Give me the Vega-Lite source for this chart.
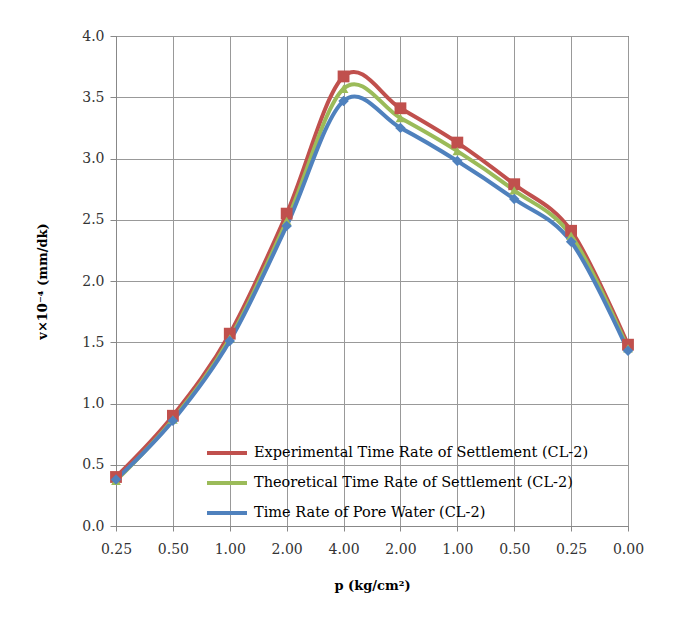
{
  "$schema": "https://vega.github.io/schema/vega-lite/v6.json",
  "width": 512,
  "height": 490,
  "autosize": "none",
  "padding": {"left": 116, "top": 36, "right": 55, "bottom": 106},
  "background": "white",
  "config": {
    "font": "DejaVu Serif",
    "view": {"stroke": "#333333", "strokeWidth": 1}
  },
  "data": {
    "values": [
      {"i": 0, "s": "Experimental Time Rate of Settlement (CL-2)", "v": 0.40},
      {"i": 1, "s": "Experimental Time Rate of Settlement (CL-2)", "v": 0.90},
      {"i": 2, "s": "Experimental Time Rate of Settlement (CL-2)", "v": 1.57},
      {"i": 3, "s": "Experimental Time Rate of Settlement (CL-2)", "v": 2.55},
      {"i": 4, "s": "Experimental Time Rate of Settlement (CL-2)", "v": 3.67},
      {"i": 5, "s": "Experimental Time Rate of Settlement (CL-2)", "v": 3.41},
      {"i": 6, "s": "Experimental Time Rate of Settlement (CL-2)", "v": 3.13},
      {"i": 7, "s": "Experimental Time Rate of Settlement (CL-2)", "v": 2.79},
      {"i": 8, "s": "Experimental Time Rate of Settlement (CL-2)", "v": 2.41},
      {"i": 9, "s": "Experimental Time Rate of Settlement (CL-2)", "v": 1.48},
      {"i": 0, "s": "Theoretical Time Rate of Settlement  (CL-2)", "v": 0.37},
      {"i": 1, "s": "Theoretical Time Rate of Settlement  (CL-2)", "v": 0.87},
      {"i": 2, "s": "Theoretical Time Rate of Settlement  (CL-2)", "v": 1.53},
      {"i": 3, "s": "Theoretical Time Rate of Settlement  (CL-2)", "v": 2.49},
      {"i": 4, "s": "Theoretical Time Rate of Settlement  (CL-2)", "v": 3.57},
      {"i": 5, "s": "Theoretical Time Rate of Settlement  (CL-2)", "v": 3.33},
      {"i": 6, "s": "Theoretical Time Rate of Settlement  (CL-2)", "v": 3.06},
      {"i": 7, "s": "Theoretical Time Rate of Settlement  (CL-2)", "v": 2.74},
      {"i": 8, "s": "Theoretical Time Rate of Settlement  (CL-2)", "v": 2.37},
      {"i": 9, "s": "Theoretical Time Rate of Settlement  (CL-2)", "v": 1.45},
      {"i": 0, "s": "Time Rate of Pore Water (CL-2)", "v": 0.38},
      {"i": 1, "s": "Time Rate of Pore Water (CL-2)", "v": 0.86},
      {"i": 2, "s": "Time Rate of Pore Water (CL-2)", "v": 1.51},
      {"i": 3, "s": "Time Rate of Pore Water (CL-2)", "v": 2.45},
      {"i": 4, "s": "Time Rate of Pore Water (CL-2)", "v": 3.47},
      {"i": 5, "s": "Time Rate of Pore Water (CL-2)", "v": 3.25},
      {"i": 6, "s": "Time Rate of Pore Water (CL-2)", "v": 2.98},
      {"i": 7, "s": "Time Rate of Pore Water (CL-2)", "v": 2.67},
      {"i": 8, "s": "Time Rate of Pore Water (CL-2)", "v": 2.32},
      {"i": 9, "s": "Time Rate of Pore Water (CL-2)", "v": 1.43}
    ]
  },
  "encoding": {
    "x": {
      "field": "i",
      "type": "quantitative",
      "scale": {"domain": [0, 9], "nice": false, "zero": false},
      "axis": {
        "values": [0, 1, 2, 3, 4, 5, 6, 7, 8, 9],
        "labelExpr": "['0.25','0.50','1.00','2.00','4.00','2.00','1.00','0.50','0.25','0.00'][datum.value]",
        "title": "p (kg/cm²)",
        "titleFontSize": 13,
        "titleFontWeight": "bold",
        "titleColor": "#000000",
        "titlePadding": 23,
        "labelFontSize": 14,
        "labelColor": "#333333",
        "labelPadding": 11,
        "grid": true,
        "gridColor": "#999999",
        "gridWidth": 1,
        "domainColor": "#888888",
        "tickColor": "#888888",
        "tickSize": 5,
        "labelFlush": false
      }
    },
    "y": {
      "field": "v",
      "type": "quantitative",
      "scale": {"domain": [0, 4], "nice": false},
      "axis": {
        "values": [0, 0.5, 1, 1.5, 2, 2.5, 3, 3.5, 4],
        "format": ".1f",
        "title": "v×10⁻⁴ (mm/dk)",
        "titleFontSize": 13,
        "titleFontWeight": "bold",
        "titleColor": "#000000",
        "titlePadding": 32,
        "labelFontSize": 14,
        "labelColor": "#333333",
        "labelPadding": 6,
        "grid": true,
        "gridColor": "#999999",
        "gridWidth": 1,
        "domainColor": "#888888",
        "tickColor": "#888888",
        "tickSize": 6
      }
    }
  },
  "layer": [
    {
      "mark": {"type": "line", "interpolate": "cardinal", "strokeWidth": 4},
      "encoding": {
        "color": {
          "field": "s",
          "type": "nominal",
          "sort": null,
          "scale": {
            "domain": ["Experimental Time Rate of Settlement (CL-2)", "Theoretical Time Rate of Settlement  (CL-2)", "Time Rate of Pore Water (CL-2)"],
            "range": ["#C0504D", "#9BBB59", "#4F81BD"]
          },
          "legend": {
            "orient": "none",
            "legendX": 89,
            "legendY": 395,
            "title": null,
            "symbolType": "stroke",
            "symbolSize": 1600,
            "symbolStrokeWidth": 4,
            "labelFontSize": 14.5,
            "labelColor": "#000000",
            "labelLimit": 400,
            "rowPadding": -3.5,
            "labelOffset": 5
          }
        }
      }
    },
    {
      "transform": [{"filter": "datum.s === 'Experimental Time Rate of Settlement (CL-2)'"}],
      "mark": {"type": "point", "filled": true, "opacity": 1, "shape": "square", "size": 140, "color": "#C0504D"}
    },
    {
      "transform": [{"filter": "datum.s === 'Theoretical Time Rate of Settlement  (CL-2)'"}],
      "mark": {"type": "point", "filled": true, "opacity": 1, "shape": "triangle-up", "size": 95, "color": "#9BBB59"}
    },
    {
      "transform": [{"filter": "datum.s === 'Time Rate of Pore Water (CL-2)'"}],
      "mark": {"type": "point", "filled": true, "opacity": 1, "shape": "diamond", "size": 110, "color": "#4F81BD"}
    }
  ]
}
